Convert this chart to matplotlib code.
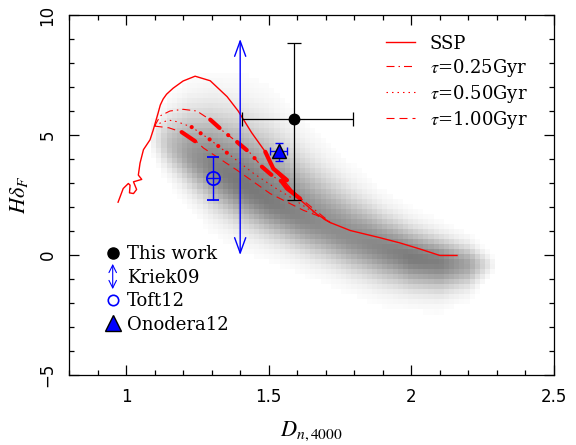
import numpy as np
import matplotlib
matplotlib.use('Agg')
import matplotlib.pyplot as plt
from matplotlib.colors import LinearSegmentedColormap
from matplotlib.lines import Line2D
from matplotlib.patches import FancyArrowPatch
from matplotlib.legend_handler import HandlerBase

plt.rcParams['mathtext.fontset'] = 'stix'

# gray cloud of the local galaxy sample (edges, ridge, darkness)
blob_x = [1.08, 1.15, 1.22, 1.3, 1.4, 1.5, 1.6, 1.7, 1.8, 1.9, 2.0, 2.1, 2.2, 2.3]
blob_top = [5.9, 6.6, 7.0, 7.1, 6.9, 6.4, 5.4, 4.3, 3.3, 2.4, 1.7, 1.2, 0.8, 0.0]
blob_mid = [4.9, 4.6, 4.2, 3.7, 3.0, 2.3, 1.7, 1.2, 0.7, 0.3, -0.1, -0.3, -0.4, -0.4]
blob_bot = [4.0, 3.0, 2.2, 1.3, 0.6, 0.1, -0.4, -0.9, -1.4, -1.8, -2.0, -2.1, -1.8, -0.8]
blob_peak = [0.0, 0.45, 0.72, 0.9, 0.97, 0.95, 0.88, 0.82, 0.82, 0.87, 0.95, 0.92, 0.65, 0.0]

# SSP track
ssp_x = [0.972, 0.99, 1.008, 1.014, 1.012, 1.026, 1.037, 1.026, 1.055, 1.043, 1.049,
         1.061, 1.084, 1.095, 1.112, 1.12, 1.13, 1.142, 1.165, 1.2, 1.242, 1.295,
         1.354, 1.393, 1.44, 1.488, 1.516, 1.564, 1.61, 1.669, 1.716, 1.786, 1.89,
         1.961, 2.03, 2.10, 2.16]
ssp_y = [2.2, 2.77, 2.98, 2.91, 2.59, 2.56, 2.73, 3.05, 3.15, 3.33, 3.83,
         4.39, 4.8, 5.2, 5.9, 6.25, 6.5, 6.7, 6.95, 7.25, 7.45, 7.26,
         6.6, 6.0, 5.1, 4.3, 3.6, 2.95, 2.3, 1.7, 1.35, 1.02, 0.72,
         0.5, 0.25, -0.02, -0.02]
ssp_thick_x = [1.488, 1.516, 1.564, 1.546, 1.564, 1.61]
ssp_thick_y = [4.3, 3.6, 3.12, 3.05, 2.77, 2.35]

# exponentially declining SFH tracks
tau25_x = [1.10, 1.12, 1.154, 1.2, 1.248, 1.298, 1.34, 1.39, 1.435, 1.476, 1.517, 1.558, 1.62, 1.72]
tau25_y = [5.37, 5.8, 6.0, 6.07, 6.0, 5.61, 5.16, 4.7, 4.25, 3.68, 3.26, 2.98, 2.28, 1.32]
tau25_thick_x = [1.295, 1.298, 1.34, 1.39, 1.435, 1.476, 1.517, 1.558]
tau25_thick_y = [5.64, 5.61, 5.16, 4.7, 4.25, 3.68, 3.26, 2.98]

tau50_x = [1.10, 1.12, 1.15, 1.18, 1.23, 1.295, 1.36, 1.447, 1.517, 1.575, 1.646, 1.72]
tau50_y = [5.37, 5.5, 5.62, 5.55, 5.33, 4.8, 4.2, 3.4, 2.84, 2.42, 1.86, 1.32]
tau50_thick_x = [1.23, 1.295, 1.36]
tau50_thick_y = [5.33, 4.8, 4.2]

tau100_x = [1.10, 1.15, 1.195, 1.245, 1.271, 1.388, 1.505, 1.622, 1.669, 1.72]
tau100_y = [5.37, 5.3, 5.12, 4.75, 4.46, 3.54, 2.56, 1.86, 1.65, 1.32]
tau100_thick_x = [1.195, 1.242]
tau100_thick_y = [5.12, 4.74]

# observations
this_x, this_y = 1.587, 5.65
this_xerr = [[1.587 - 1.406], [1.795 - 1.587]]
this_yerr = [[5.65 - 2.28], [8.82 - 5.65]]

kriek_x, kriek_lo, kriek_hi = 1.40, 0.0, 9.0

toft_x, toft_y = 1.306, 3.19
toft_yerr = [[3.19 - 2.28], [4.1 - 3.19]]
toft_xerr = 0.023

onod_x, onod_y = 1.537, 4.32
onod_xerr = [[1.537 - 1.505], [1.564 - 1.537]]
onod_yerr = [[4.32 - 3.9], [4.67 - 4.32]]

fig = plt.figure(figsize=(5.76, 4.45), dpi=100)
ax = fig.add_axes([0.1198, 0.1573, 0.842, 0.809])

# density cloud as small pixels
xe = np.arange(0.8, 2.5001, 0.018)
ye = np.arange(-5.0, 10.0001, 0.21)
xc = 0.5 * (xe[:-1] + xe[1:])
yc = 0.5 * (ye[:-1] + ye[1:])
mid = np.interp(xc, blob_x, blob_mid)
up = np.interp(xc, blob_x, blob_top) - mid
lo = mid - np.interp(xc, blob_x, blob_bot)
peak = np.interp(xc, blob_x, blob_peak, left=0, right=0)
d = yc[:, None] - mid[None, :]
hw = np.where(d > 0, up[None, :], lo[None, :])
z = peak[None, :] * np.exp(-2.6 * (d / hw) ** 2)
z[z < 0.025] = 0
cmap = LinearSegmentedColormap.from_list('cloud', ['#ffffff', '#747474'])
ax.pcolormesh(xe, ye, z, cmap=cmap, vmin=0, vmax=1, shading='flat', zorder=0)

red = '#ff0000'
ax.plot(ssp_x, ssp_y, color=red, lw=1.0, zorder=3, label='SSP')
ax.plot(tau25_x, tau25_y, color=red, lw=0.8, ls=(0, (7.2, 3.6, 1.35, 3.6)), zorder=3,
        label=r'$\tau$=0.25Gyr')
ax.plot(tau50_x, tau50_y, color=red, lw=0.8, ls=(0, (1.35, 3.6)), zorder=3,
        label=r'$\tau$=0.50Gyr')
ax.plot(tau100_x, tau100_y, color=red, lw=0.8, ls=(0, (7.2, 4.5)), zorder=3,
        label=r'$\tau$=1.00Gyr')

# thick parts of the tracks
ax.plot(ssp_thick_x, ssp_thick_y, color=red, lw=3, solid_capstyle='round',
        solid_joinstyle='round', zorder=4)
ax.plot(tau25_thick_x, tau25_thick_y, color=red, lw=3, ls=(0, (3, 2.7, 0.01, 2.7)),
        dash_capstyle='round', zorder=4)
ax.plot(tau50_thick_x, tau50_thick_y, color=red, lw=3, ls=(0, (0.01, 2.6)),
        dash_capstyle='round', zorder=4)
ax.plot(tau100_thick_x, tau100_thick_y, color=red, lw=3, solid_capstyle='round', zorder=4)

# data points
ax.errorbar(this_x, this_y, xerr=this_xerr, yerr=this_yerr, fmt='o', color='k',
            ms=7.5, lw=0.9, capsize=4.8, capthick=0.9, zorder=6)
ax.annotate('', xy=(kriek_x, kriek_hi), xytext=(kriek_x, kriek_lo),
            arrowprops=dict(arrowstyle='<->,head_length=1.1,head_width=0.4',
                            color='blue', lw=1.0, mutation_scale=10,
                            shrinkA=0, shrinkB=0), zorder=5)
ax.errorbar(toft_x, toft_y, xerr=toft_xerr, fmt='none', ecolor='blue', lw=1.0, zorder=6)
ax.errorbar(toft_x, toft_y, yerr=toft_yerr, fmt='o', color='blue', mfc='none',
            mec='blue', mew=1.3, ms=9.5, lw=1.0, capsize=4.3, capthick=1.0, zorder=6)
ax.errorbar(onod_x, onod_y, xerr=onod_xerr, yerr=onod_yerr, fmt='none', ecolor='blue',
            lw=1.0, capsize=2.8, capthick=1.0, zorder=6)
ax.plot(onod_x, onod_y, marker='^', ms=10, mfc='blue', mec='k', mew=1.0, ls='none', zorder=7)

ax.set_xlim(0.8, 2.5)
ax.set_ylim(-5, 10)
ax.set_xticks([1, 1.5, 2, 2.5])
ax.set_xticklabels(['1', '1.5', '2', '2.5'])
ax.set_yticks([-5, 0, 5, 10])
ax.set_xticks(np.arange(0.8, 2.51, 0.1), minor=True)
ax.set_yticks(np.arange(-5, 10.1, 1), minor=True)
ax.tick_params(which='both', direction='in', top=True, right=True, width=0.9)
ax.tick_params(which='major', length=7, labelsize=12, pad=9)
ax.tick_params(which='minor', length=3.5)
ax.tick_params(axis='y', labelrotation=90)
for lab in ax.get_yticklabels():
    lab.set_va('center')
for s in ax.spines.values():
    s.set_linewidth(0.9)

ax.set_xlabel(r'$D_{n,4000}$', fontsize=16, labelpad=10)
ax.set_ylabel(r'$H\delta_F$', fontsize=16, labelpad=6)

serif = {'family': 'DejaVu Serif', 'size': 13}

# model legend (top right)
leg1 = ax.legend(loc='upper left', bbox_to_anchor=(0.653, 0.945), frameon=False,
                 prop=serif, handlelength=1.65, handletextpad=0.8, labelspacing=0.22,
                 borderpad=0, borderaxespad=0)
ax.add_artist(leg1)


class HandlerArrow(HandlerBase):
    def create_artists(self, legend, orig_handle, xdescent, ydescent, width, height,
                       fontsize, trans):
        cx = width / 2 - xdescent
        cy = height / 2 - ydescent
        arr = FancyArrowPatch((cx, cy - 0.7 * fontsize), (cx, cy + 0.7 * fontsize),
                              arrowstyle='<->,head_length=0.6,head_width=0.3',
                              mutation_scale=9, color='blue', lw=0.8,
                              shrinkA=0, shrinkB=0, transform=trans)
        return [arr]


h_this = Line2D([], [], marker='o', color='k', ls='none', ms=8)
h_kriek = Line2D([], [], color='blue')
h_toft = Line2D([], [], marker='o', mfc='none', mec='blue', mew=1.2, ls='none', ms=7.5)
h_onod = Line2D([], [], marker='^', mfc='blue', mec='k', mew=1.0, ls='none', ms=11)
ax.legend([h_this, h_kriek, h_toft, h_onod], ['This work', 'Kriek09', 'Toft12', 'Onodera12'],
          handler_map={h_kriek: HandlerArrow()}, loc='upper left',
          bbox_to_anchor=(0.0715, 0.36), frameon=False, prop=serif, handlelength=1.0,
          handletextpad=0.3, labelspacing=0.3, borderpad=0, borderaxespad=0)

fig.savefig('out.png', dpi=100)
